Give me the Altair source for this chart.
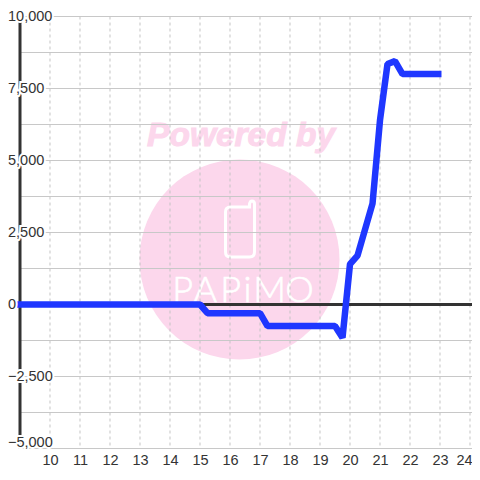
import altair as alt
import pandas as pd

# data
hours = [8.9, 15.0, 15.25, 17.0, 17.25, 19.5, 19.75, 20.0, 20.25, 20.75, 21.0, 21.25, 21.5, 21.75, 23.05]
values = [0, 0, -300, -300, -750, -750, -1150, 1400, 1700, 3500, 6400, 8350, 8450, 8000, 8000]
h_grid = [-5000, -3750, -2500, -1250, 0, 1250, 2500, 3750, 5000, 6250, 7500, 8750, 10000]
v_grid = list(range(10, 25))
y_labels_main = [-2500, 0, 2500, 5000, 7500, 10000]
y_labels_last = [-5000]
wm_letters = ["P", "A", "P", "i", "M", "O"]
wm_x = [14.42, 15.18, 16.02, 16.58, 17.32, 18.32]

x_scale = alt.Scale(domain=[9, 24.0667], nice=False, zero=False)
y_scale = alt.Scale(domain=[-5000, 10000], nice=False, zero=False)
x_axis = alt.Axis(values=v_grid, title=None, grid=False, domain=False, ticks=False, orient="bottom",
                  labelFont="Liberation Sans", labelFontSize=14.5, labelColor="#333333", labelPadding=5,
                  labelFlush=False, labelOverlap=False, labelBound=False, format="d",
                  labelOffset={"condition": {"test": "datum.value == 24", "value": -6}, "value": 0})
X = lambda f: alt.X(f, type="quantitative", scale=x_scale, axis=x_axis)
Y = lambda f: alt.Y(f, type="quantitative", scale=y_scale, axis=None)

circle = alt.Chart(pd.DataFrame({"x": [16.317], "y": [1562]})).mark_point(
    shape="circle", filled=True, color="#fcd7ec", opacity=1, size=40000
).encode(x=X("x"), y=Y("y"))

powered = alt.Chart(pd.DataFrame({"x": [16.37], "y": [5868], "t": ["Powered by"]})).mark_text(
    font="Liberation Sans", fontWeight="bold", fontStyle="italic", fontSize=33.5, color="#fcd7ec",
    stroke="#fcd7ec", strokeWidth=1, align="center", baseline="middle"
).encode(x=X("x"), y=Y("y"), text="t:N")

phone = alt.Chart(pd.DataFrame({"x": [16.333], "y": [2517]})).mark_point(
    shape="M-0.19,-0.5 L0.19,-0.5 L0.19,-0.56 Q0.2,-0.62 0.24,-0.62 Q0.29,-0.62 0.29,-0.56 L0.29,0.4 Q0.29,0.5 0.19,0.5 L-0.19,0.5 Q-0.29,0.5 -0.29,0.4 L-0.29,-0.4 Q-0.29,-0.5 -0.19,-0.5 Z",
    filled=False, stroke="#ffffff", strokeWidth=3, opacity=1, size=10000
).encode(x=X("x"), y=Y("y"))

letters = alt.Chart(pd.DataFrame({"x": wm_x, "y": [486] * 6, "t": wm_letters})).mark_text(
    font="Lato", fontWeight=300, fontSize=36, color="#ffffff", stroke="#ffffff", strokeWidth=0.6,
    align="center", baseline="middle"
).encode(x=X("x"), y=Y("y"), text="t:N")

hg = alt.Chart(pd.DataFrame({"v": h_grid})).mark_rule(color="#c8c8c8", strokeWidth=1).encode(
    y=Y("v"), x=alt.value(0), x2=alt.value(452))
vg = alt.Chart(pd.DataFrame({"v": v_grid})).mark_rule(color="#c4c4c4", strokeWidth=1, strokeDash=[3, 3]).encode(
    x=X("v"), y=alt.value(0), y2=alt.value(432))

y_axis_line = alt.Chart(pd.DataFrame({"v": [0]})).mark_rule(color="#333333", strokeWidth=3).encode(
    x=alt.value(0), y=alt.value(0), y2=alt.value(432))
zero_line = alt.Chart(pd.DataFrame({"v": [0]})).mark_rule(color="#333333", strokeWidth=3).encode(
    y=Y("v"), x=alt.value(0), x2=alt.value(452))

line = alt.Chart(pd.DataFrame({"h": hours, "v": values})).mark_line(
    color="#1f37ff", strokeWidth=6.5, strokeJoin="bevel", strokeCap="butt"
).encode(x=X("h"), y=Y("v"), order="h:Q")

def ylabels(vals, xpos, dy=0):
    df = pd.DataFrame({"v": vals})
    base = alt.Chart(df).encode(y=Y("v"), x=alt.value(xpos), text=alt.Text("v:Q", format=","))
    kw = dict(font="Liberation Sans", fontSize=14.5, align="left", baseline="middle", dy=dy)
    return (base.mark_text(color="#ffffff", stroke="#ffffff", strokeWidth=4, **kw)
            + base.mark_text(color="#333333", **kw))

chart = alt.layer(
    circle, powered, phone, letters, hg, vg, y_axis_line, zero_line, line,
    ylabels(y_labels_main, -12), ylabels(y_labels_last, -12, -6)
).properties(width=452, height=432, padding={"left": 12, "top": 8.5, "right": 0, "bottom": 23.5},
             autosize=alt.AutoSizeParams(type="none"), background="#ffffff"
).configure_view(stroke=None)

chart.save("out.html", embed_options={"renderer": "svg", "actions": False})
